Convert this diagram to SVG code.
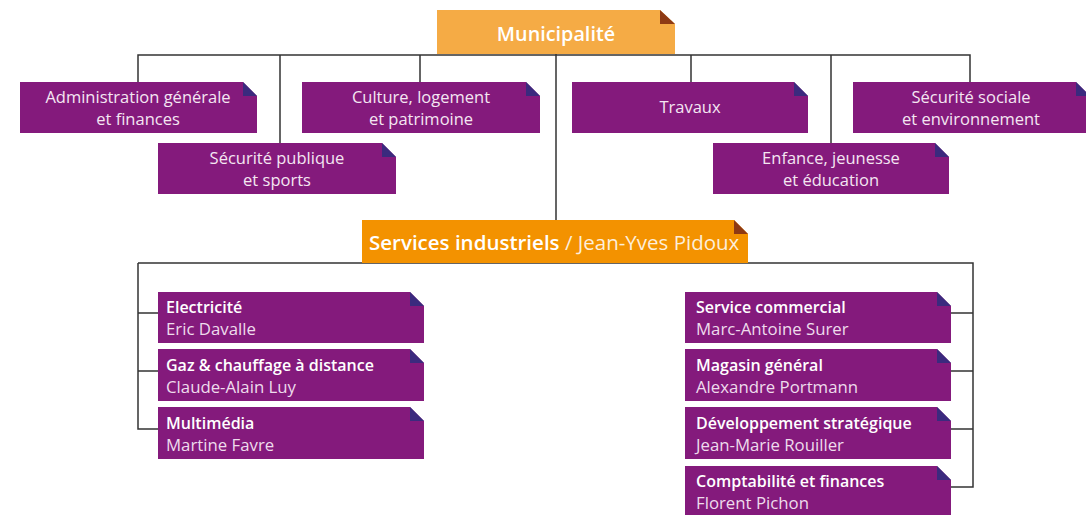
<svg xmlns="http://www.w3.org/2000/svg" width="1086" height="515" viewBox="0 0 1086 515">
<defs>
<style>
.p{fill:#841a7c}
.fp{fill:#3b2a7e}
.o1{fill:#f5ab45}
.o2{fill:#f39200}
.fo{fill:#8e3a14}
.ln{fill:none;stroke:#333;stroke-width:1.5}
text{font-family:"Open Sans","Liberation Sans",sans-serif}
.c{fill:#f4e6f2;font-size:16.5px;text-anchor:middle}
.t{fill:#ffffff;font-size:16px;font-weight:600}
.n{fill:#eedcec;font-size:16.8px}
</style>
</defs>
<rect width="1086" height="515" fill="#ffffff"/>
<g id="connectors">
<path class="ln" d="M138,82V55H970V82M280,55V143M420,55V82M556,54V220M691,55V82M831,55V143"/>
<path class="ln" d="M138,263H973V487H951M138,263V429H158M138,313H158M138,371H158M951,313H973M951,371H973M951,429H973"/>
</g>
<g id="municipalite">
<polygon class="o1" points="437,10 660,10 675,24 675,54 437,54"/>
<polygon class="fo" points="660,10 675,24 660,24"/>
<text x="556" y="41" fill="#fff" font-size="19.8" font-weight="600" text-anchor="middle">Municipalité</text>
</g>
<g id="admin">
<polygon class="p" points="20,82 243,82 257,96 257,133 20,133"/>
<polygon class="fp" points="243,82 257,96 243,96"/>
<text class="c" x="138" y="103">Administration générale</text>
<text class="c" x="138" y="125">et finances</text>
</g>
<g id="securite-publique">
<polygon class="p" points="158,143 382,143 396,157 396,194 158,194"/>
<polygon class="fp" points="382,143 396,157 382,157"/>
<text class="c" x="277" y="164">Sécurité publique</text>
<text class="c" x="277" y="186">et sports</text>
</g>
<g id="culture">
<polygon class="p" points="302,82 526,82 540,96 540,133 302,133"/>
<polygon class="fp" points="526,82 540,96 526,96"/>
<text class="c" x="421" y="103">Culture, logement</text>
<text class="c" x="421" y="125">et patrimoine</text>
</g>
<g id="travaux">
<polygon class="p" points="572,82 794,82 808,96 808,133 572,133"/>
<polygon class="fp" points="794,82 808,96 794,96"/>
<text class="c" x="690" y="113">Travaux</text>
</g>
<g id="enfance">
<polygon class="p" points="713,143 935,143 949,157 949,194 713,194"/>
<polygon class="fp" points="935,143 949,157 935,157"/>
<text class="c" x="831" y="164">Enfance, jeunesse</text>
<text class="c" x="831" y="186">et éducation</text>
</g>
<g id="securite-sociale">
<polygon class="p" points="853,82 1076,82 1090,96 1090,133 853,133"/>
<polygon class="fp" points="1076,82 1090,96 1076,96"/>
<text class="c" x="971" y="103">Sécurité sociale</text>
<text class="c" x="971" y="125">et environnement</text>
</g>
<g id="services-industriels">
<polygon class="o2" points="362,220 734,220 748,234 748,263 362,263"/>
<polygon class="fo" points="734,220 748,234 734,234"/>
<text x="369" y="250" font-size="20.5" fill="#fff"><tspan font-weight="600">Services industriels</tspan><tspan fill="#fdeedb"> / Jean-Yves Pidoux</tspan></text>
</g>
<g id="electricite">
<polygon class="p" points="158,292 410,292 424,306 424,343 158,343"/>
<polygon class="fp" points="410,292 424,306 410,306"/>
<text class="t" x="166" y="313">Electricité</text>
<text class="n" x="166" y="335">Eric Davalle</text>
</g>
<g id="gaz">
<polygon class="p" points="158,349 410,349 424,363 424,401 158,401"/>
<polygon class="fp" points="410,349 424,363 410,363"/>
<text class="t" x="166" y="371">Gaz &amp; chauffage à distance</text>
<text class="n" x="166" y="393">Claude-Alain Luy</text>
</g>
<g id="multimedia">
<polygon class="p" points="158,407 410,407 424,421 424,459 158,459"/>
<polygon class="fp" points="410,407 424,421 410,421"/>
<text class="t" x="166" y="429">Multimédia</text>
<text class="n" x="166" y="451">Martine Favre</text>
</g>
<g id="service-commercial">
<polygon class="p" points="685,292 937,292 951,306 951,343 685,343"/>
<polygon class="fp" points="937,292 951,306 937,306"/>
<text class="t" x="696" y="313">Service commercial</text>
<text class="n" x="696" y="335">Marc-Antoine Surer</text>
</g>
<g id="magasin">
<polygon class="p" points="685,349 937,349 951,363 951,401 685,401"/>
<polygon class="fp" points="937,349 951,363 937,363"/>
<text class="t" x="696" y="371">Magasin général</text>
<text class="n" x="696" y="393">Alexandre Portmann</text>
</g>
<g id="developpement">
<polygon class="p" points="685,407 937,407 951,421 951,459 685,459"/>
<polygon class="fp" points="937,407 951,421 937,421"/>
<text class="t" x="696" y="429">Développement stratégique</text>
<text class="n" x="696" y="451">Jean-Marie Rouiller</text>
</g>
<g id="comptabilite">
<polygon class="p" points="685,466 937,466 951,480 951,515 685,515"/>
<polygon class="fp" points="937,466 951,480 937,480"/>
<text class="t" x="696" y="487">Comptabilité et finances</text>
<text class="n" x="696" y="509">Florent Pichon</text>
</g>
</svg>
